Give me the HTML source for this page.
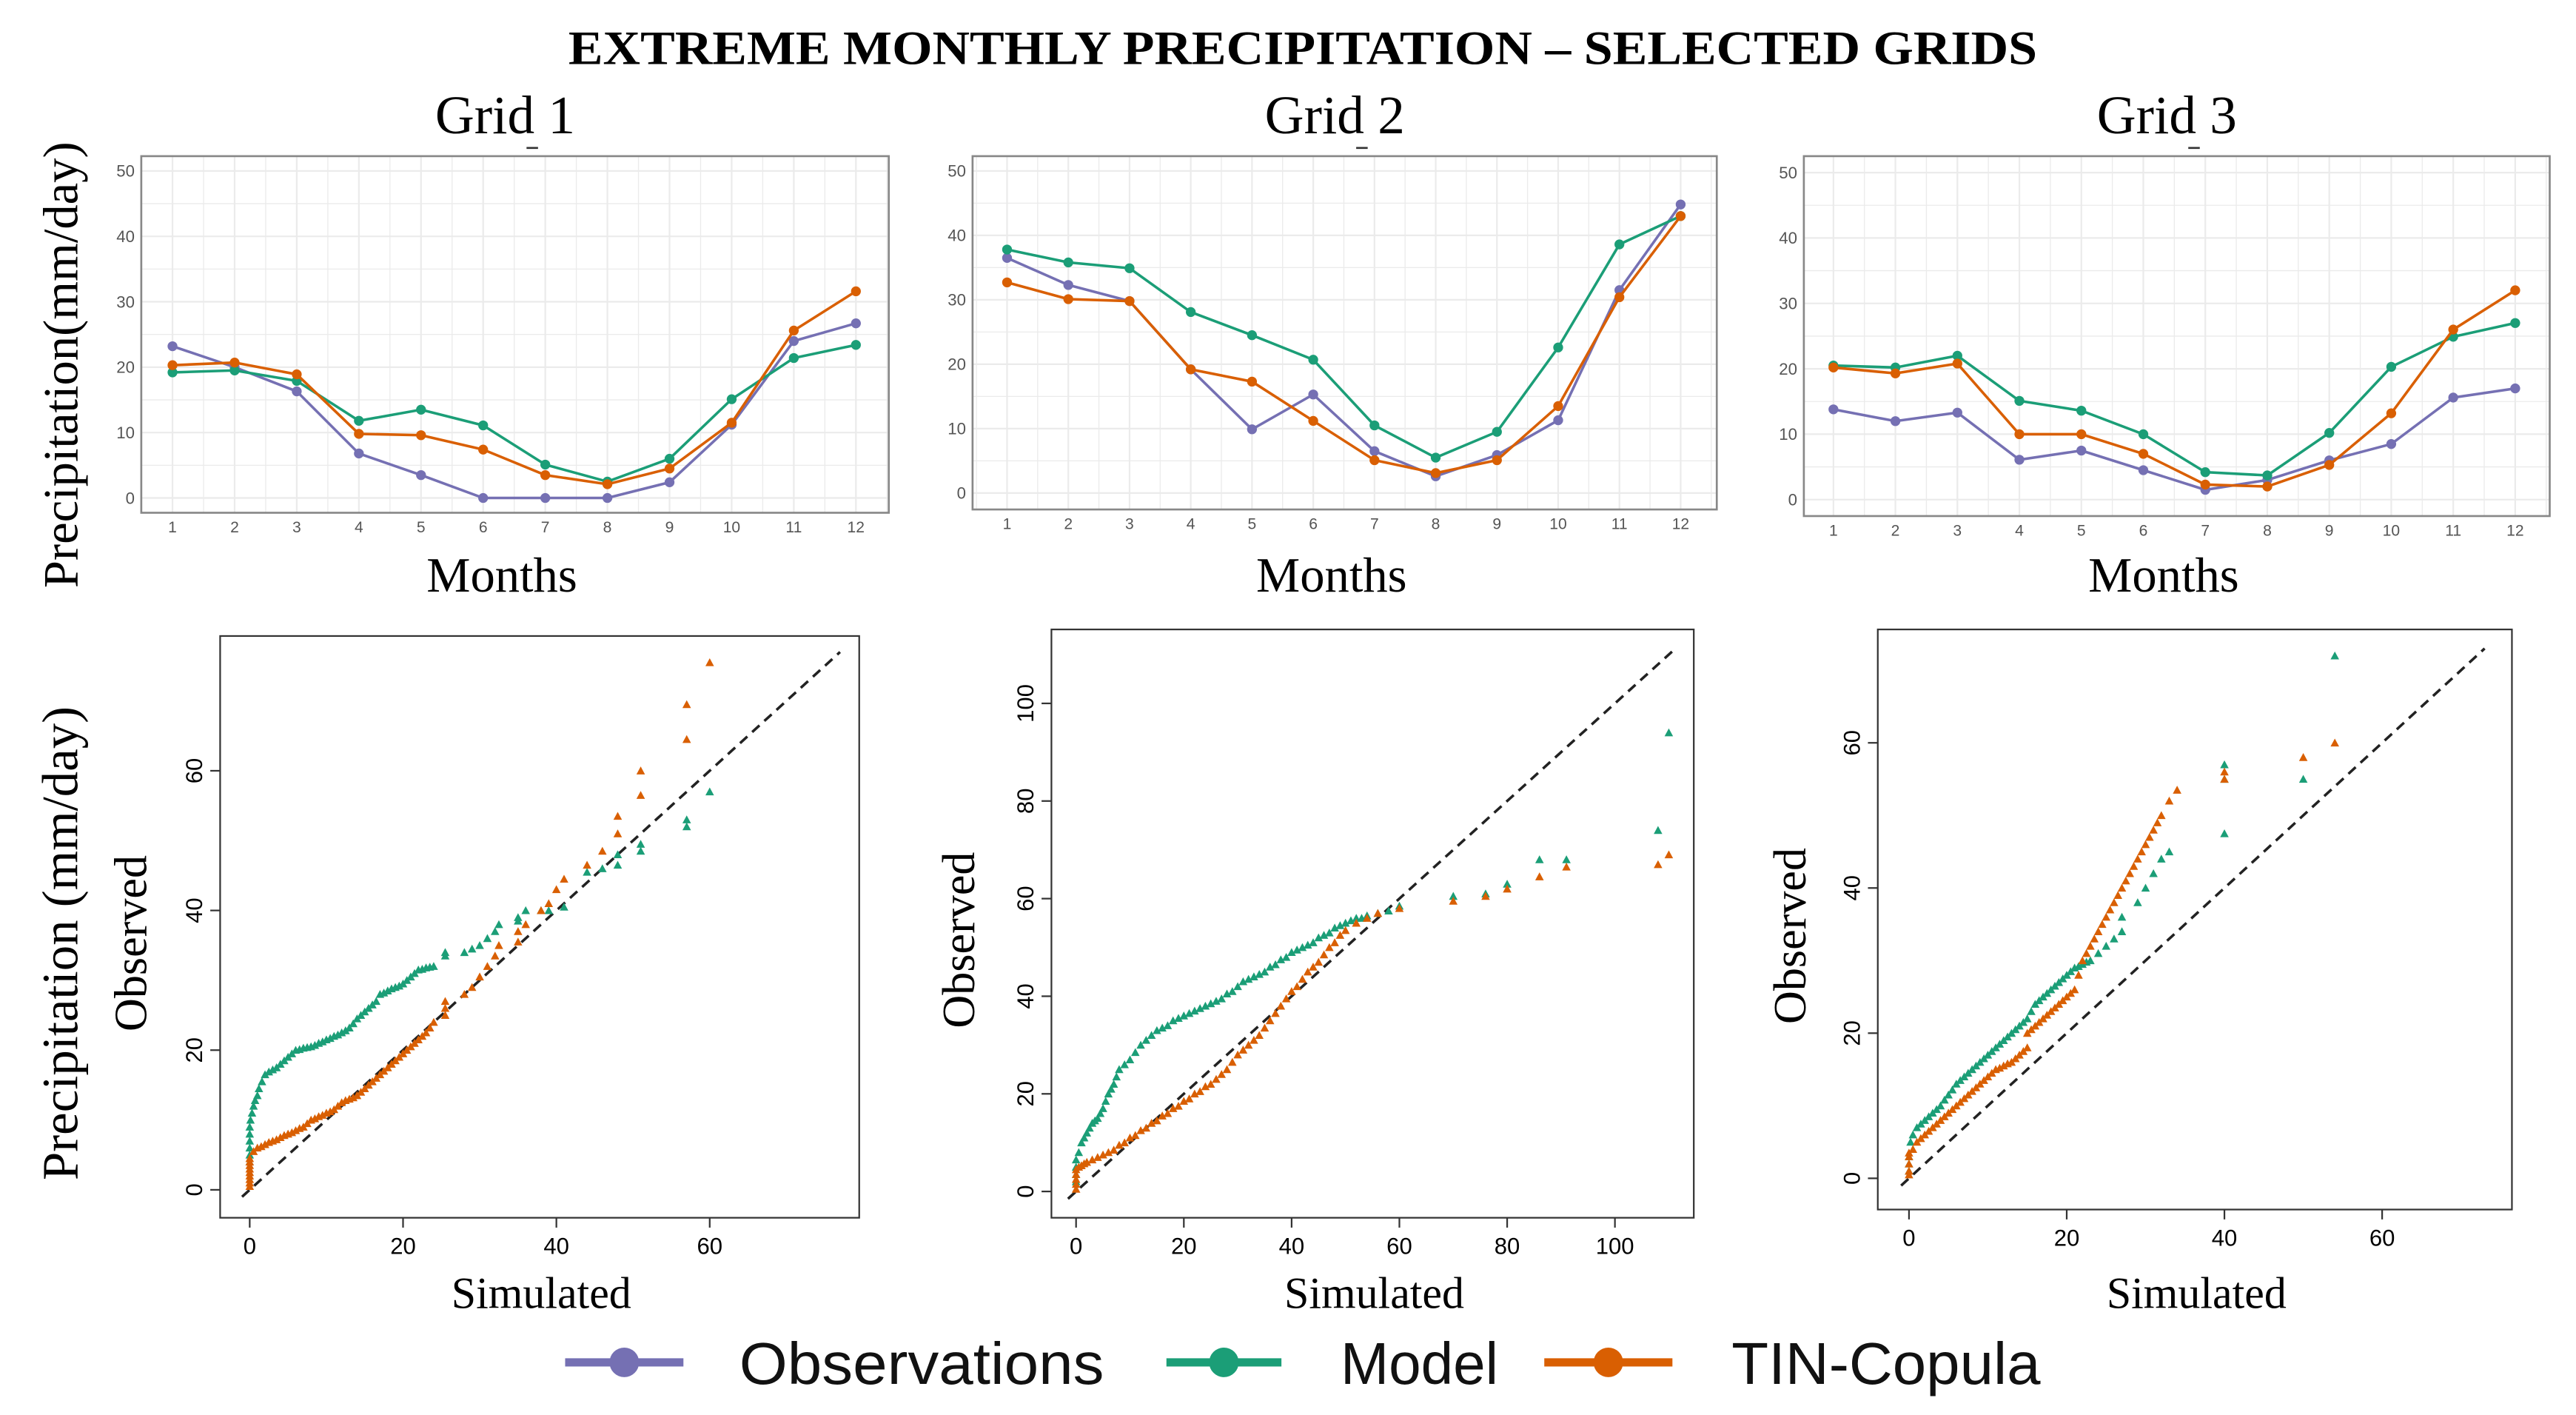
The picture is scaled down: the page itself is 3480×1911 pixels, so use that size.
<!DOCTYPE html>
<html><head><meta charset="utf-8">
<style>
html,body{margin:0;padding:0;background:#fff;}
svg{display:block;}
.serif{font-family:"Liberation Serif",serif;}
.sans{font-family:"Liberation Sans",sans-serif;}
</style></head>
<body>
<svg id="chart" width="3480" height="1911" viewBox="0 0 1568 861" xmlns="http://www.w3.org/2000/svg">
<rect x="0" y="0" width="1568" height="861" fill="#fff"/>
<text class="serif" x="793" y="39" text-anchor="middle" font-size="29" font-weight="bold" textLength="894" lengthAdjust="spacingAndGlyphs">EXTREME MONTHLY PRECIPITATION – SELECTED GRIDS</text>
<text class="serif" transform="translate(47,222) rotate(-90)" text-anchor="middle" font-size="30">Precipitation(mm/day)</text>
<text class="serif" transform="translate(47,574) rotate(-90)" text-anchor="middle" font-size="31">Precipitation (mm/day)</text>
<g id="legend"></g>
</svg>
<script>
const months = [1,2,3,4,5,6,7,8,9,10,11,12];
const yTicksTop = [0,10,20,30,40,50];
const grid1Obs   = [23.2,20.0,16.3,6.8,3.5,0,0,0,2.4,11.2,24.0,26.7];
const grid1Model = [19.2,19.5,17.9,11.8,13.5,11.1,5.1,2.5,6.0,15.1,21.4,23.4];
const grid1Tin   = [20.3,20.7,18.9,9.8,9.6,7.4,3.5,2.1,4.5,11.5,25.6,31.6];
const grid2Obs   = [36.5,32.3,29.8,19.2,9.9,15.3,6.5,2.6,5.9,11.3,31.5,44.8];
const grid2Model = [37.8,35.8,34.9,28.1,24.5,20.7,10.5,5.5,9.5,22.6,38.6,43.0];
const grid2Tin   = [32.7,30.1,29.8,19.2,17.3,11.2,5.1,3.1,5.1,13.5,30.4,43.0];
const grid3Obs   = [13.8,12.0,13.3,6.1,7.5,4.5,1.5,3.0,6.0,8.5,15.6,17.0];
const grid3Model = [20.5,20.2,22.0,15.1,13.6,10.0,4.2,3.7,10.2,20.3,24.9,27.0];
const grid3Tin   = [20.2,19.3,20.8,10.0,10.0,7.0,2.3,2.0,5.3,13.2,26.0,32.0];

const qq1Ticks = [0,20,40,60];
const qq2Ticks = [0,20,40,60,80,100];
const qq3Ticks = [0,20,40,60];
const qq1ModelSim = [0,0,0,0,0,0,0.1,0.3,0.5,0.7,1,1.2,1.6,2,2.5,3,3.5,4,4.5,5,5.5,6,6.5,7,7.5,8,8.5,9,9.5,10,10.5,11,11.5,12,12.5,13,13.5,14,14.5,15,15.5,16,16.5,17,17.5,18,18.5,19,19.5,20,20.5,21,21.5,22,22.5,23,23.5,24,25.5,25.5,28,29,30,31,32,32.5,35,35,36,38,39,41,44,46,48,48,51,51,57,57,60];
const qq1ModelObs = [4,5,6,7,8,9,10,11,12,12.8,13.5,14.5,15.5,16.5,16.9,17.2,17.5,18,18.5,19,19.5,20,20.1,20.3,20.4,20.5,20.7,21,21.2,21.5,21.7,22,22.2,22.5,22.8,23.2,23.8,24.5,25,25.5,26,26.5,27,28,28.2,28.5,28.8,29,29.2,29.5,30,30.5,31,31.5,31.6,31.8,31.9,32,33.5,34,34,34.5,35,36,37,38,38.5,39,40,40,40,40.5,45.5,46,46.5,48,48.5,49.5,52,53,57];
const qq1TinSim = [0,0,0,0,0,0,0,0,0,0.5,1,1.5,2,2.5,3,3.5,4,4.5,5,5.5,6,6.5,7,7.5,8,8.5,9,9.5,10,10.5,11,11.5,12,12.5,13,13.5,14,14.5,15,15.5,16,16.5,17,17.5,18,18.5,19,19.5,20,20.5,21,21.5,22,22.5,23,23.5,24,25.5,25.5,25.5,28,29,30,31,32,32.5,35,35,36,38,39,40,41,44,46,48,48,51,51,57,57,60];
const qq1TinObs = [0.5,1,1.5,2,2.5,3,3.5,4,4.5,5.5,6,6.2,6.5,6.8,7,7.2,7.5,7.8,8,8.2,8.5,8.8,9,9.5,10,10.2,10.5,10.7,11,11.2,11.5,12,12.5,12.8,13,13.2,13.5,14,14.5,15,15.5,16,16.5,17,17.5,18,18.5,19,19.5,20,20.5,21,21.5,22,22.5,23.2,24,25,26,27,28,29,30.5,32,33.5,35,35.5,37,38,40,41,43,44.5,46.5,48.5,51,53.5,56.5,60,64.5,69.5,75.5];
const qq2ModelSim = [0,0,0,0,0.5,1,1.5,2,2.5,3,3.5,4,4.5,5,5.5,6,6.5,7,7.5,8,9,10,11,12,13,14,15,16,17,18,19,20,21,22,23,24,25,26,27,28,29,30,31,32,33,34,35,36,37,38,39,40,41,42,43,44,45,46,47,48,49,50,51,52,53,54,56,58,60,70,76,80,86,91,108,110];
const qq2ModelObs = [2,3.5,5,6.5,8,10,11,12,13,14,14.5,15,16,17,18.5,20,21,22,23.5,25,26,27,28.5,30,31,32,33,33.5,34,35,35.5,36,36.5,37,37.5,38,38.5,39,39.5,40.5,41,42,43,43.5,44,44.5,45,46,46.5,47.5,48,49,49.5,50,50.5,51,52,52.5,53,54,54.5,55,55.5,56,56,56.5,57,57.5,58.5,60.5,61,63,68,68,74,94];
const qq2TinSim = [0,0,0,0,0,0.5,1,1.5,2,3,4,5,6,7,8,9,10,11,12,13,14,15,16,17,18,19,20,21,22,23,24,25,26,27,28,29,30,31,32,33,34,35,36,37,38,39,40,41,42,43,44,45,46,47,48,49,50,52,54,56,60,70,76,80,86,91,108,110];
const qq2TinObs = [0.5,1.5,2.5,3.5,4.5,5,5.3,5.7,6,6.5,7,7.5,8,8.5,9.5,10,11,11.5,12.5,13,14,14.5,15.5,16,17,17.5,18.5,19,20,20.5,21.5,22,23,24,25,26.5,28,29,30,31,32,33.5,35,36.5,38,39.5,41,42,43.5,45,46,47,48.5,50,51,52.5,53.5,55,56,57,58,59.5,60.5,62,64.5,66.5,67,69];
const qq3ModelSim = [0,0,0,0.2,0.5,1,1.5,2,2.5,3,3.5,4,4.5,5,5.5,6,6.5,7,7.5,8,8.5,9,9.5,10,10.5,11,11.5,12,12.5,13,13.5,14,14.5,15,15.5,16,16.5,17,17.5,18,18.5,19,19.5,20,20.5,21,21.5,22,22.5,23,24,25,26,27,27,29,30,31,32,33,40,40,40,50,54];
const qq3ModelObs = [1,2,3,5,6,7,7.5,8,8.5,9,9.5,10,10.8,11.5,12.2,13,13.5,14,14.5,15,15.5,16,16.5,17,17.5,18,18.5,19,19.5,20,20.5,21,21.5,22,23,24,24.5,25,25.5,26,26.5,27,27.5,28,28.5,29,29.2,29.5,29.8,30,31,32,33,34,36,38,40,42,44,45,47.5,55,57,55,72];
const qq3TinSim = [0,0,0,0,0,0.5,1,1.5,2,2.5,3,3.5,4,4.5,5,5.5,6,6.5,7,7.5,8,8.5,9,9.5,10,10.5,11,11.5,12,12.5,13,13.5,14,14.5,15,15,15.5,16,16.5,17,17.5,18,18.5,19,19.5,20,20.5,21,21.5,22,22.5,23,23.5,24,24.5,25,25.5,26,26.5,27,27.5,28,28.5,29,29.5,30,30.5,31,31.5,32,33,34,40,40,50,54];
const qq3TinObs = [0.5,1,2,3,3.5,4,5,5.5,6,6.5,7,7.5,8,8.5,9,9.5,10,10.5,11,11.5,12,12.5,13,13.5,14,14.5,15,15.2,15.5,15.8,16,16.5,17,17.5,18,20,20.5,21,21.5,22,22.5,23,23.5,24,24.5,25,25.5,26,28,30,31,32,33,34,35,36,37,38,39,40,41,42,43,44,45,46,47,48,49,50,52,53.5,55,56,58,60,62];

const NS = 'http://www.w3.org/2000/svg';
const svg = document.getElementById('chart');
const C = {obs:'#7570b3', model:'#1b9e77', tin:'#d95f02'};
function mk(tag, attrs, parent){
  const e = document.createElementNS(NS, tag);
  for (const k in attrs) e.setAttribute(k, attrs[k]);
  (parent||svg).appendChild(e); return e;
}
function lin(d0,d1,p0,p1){ return v => p0 + (v-d0)*(p1-p0)/(d1-d0); }

const topPanels = [
  {name:'grid-1', title:'Grid 1', box:[86,95,541,312], x:[105,521], y:[303,104], obs:grid1Obs, model:grid1Model, tin:grid1Tin},
  {name:'grid-2', title:'Grid 2', box:[592,95,1045,310], x:[613,1023], y:[300,104], obs:grid2Obs, model:grid2Model, tin:grid2Tin},
  {name:'grid-3', title:'Grid 3', box:[1098,95,1552,314], x:[1116,1531], y:[304,105], obs:grid3Obs, model:grid3Model, tin:grid3Tin}
];
topPanels.forEach(p => {
  const g = mk('g', {});
  
  
  const X = lin(1,12,p.x[0],p.x[1]);
  const Y = lin(0,50,p.y[0],p.y[1]);
  const [x0,y0,x1,y1] = p.box;
  const cx = (x0+x1)/2 - 6;
  const t = mk('text', {x:cx, y:81, 'text-anchor':'middle', 'font-size':33, class:'serif'}, g);
  t.textContent = p.title;
  
  
  mk('line', {x1:cx+13, x2:cx+20, y1:90, y2:90, stroke:'#333', 'stroke-width':1.2}, g);
  for (let v=5; v<=55; v+=5){
    const yy = Y(v); if (yy < y0) continue;
    mk('line', {x1:x0, x2:x1, y1:yy, y2:yy, stroke:'#ebebeb', 'stroke-width': v%10===0?1:0.6}, g);
  }
  mk('line', {x1:x0, x2:x1, y1:Y(0), y2:Y(0), stroke:'#ebebeb', 'stroke-width':1}, g);
  for (let m=0.5; m<=12.5; m+=0.5){
    const xx = X(m); if (xx<=x0||xx>=x1) continue;
    mk('line', {x1:xx, x2:xx, y1:y0, y2:y1, stroke:'#ebebeb', 'stroke-width': Number.isInteger(m)?1:0.6}, g);
  }
  mk('rect', {x:x0, y:y0, width:x1-x0, height:y1-y0, fill:'none', stroke:'#888', 'stroke-width':1.2}, g);
  yTicksTop.forEach(v => {
    const tt = mk('text', {x:x0-4, y:Y(v)+3.5, 'text-anchor':'end', 'font-size':10, fill:'#555', class:'sans'}, g);
    tt.textContent = v;
    
    
  });
  months.forEach(m => {
    const tt = mk('text', {x:X(m), y:y1+12, 'text-anchor':'middle', 'font-size':9.5, fill:'#555', class:'sans'}, g);
    tt.textContent = m;
    
    
  });
  const xl = mk('text', {x:(x0+x1)/2-8, y:360, 'text-anchor':'middle', 'font-size':30, class:'serif'}, g);
  xl.textContent = 'Months';
  
  
  [['obs',p.obs],['model',p.model],['tin',p.tin]].forEach(([k,arr]) => {
    const pts = arr.map((v,i)=>X(months[i])+','+Y(v)).join(' ');
    const pl = mk('polyline', {points:pts, fill:'none', stroke:C[k], 'stroke-width':1.6}, g);
    
    
    arr.forEach((v,i) => {
      const c = mk('circle', {cx:X(months[i]), cy:Y(v), r:3, fill:C[k]}, g);
      
      
    });
  });
});

const qqPanels = [
  {name:'qq-grid-1', box:[134,387,523,741], xt:qq1Ticks, xp:[152,432], yp:[724,469], xmax:60, diag:[-1,77], ms:qq1ModelSim, mo:qq1ModelObs, ts:qq1TinSim, to:qq1TinObs, obsX:80},
  {name:'qq-grid-2', box:[640,383,1031,741], xt:qq2Ticks, xp:[655,983], yp:[725,428], xmax:100, diag:[-1.5,111], ms:qq2ModelSim, mo:qq2ModelObs, ts:qq2TinSim, to:qq2TinObs, obsX:584},
  {name:'qq-grid-3', box:[1143,383,1529,736], xt:qq3Ticks, xp:[1162,1450], yp:[717,452], xmax:60, diag:[-1,73], ms:qq3ModelSim, mo:qq3ModelObs, ts:qq3TinSim, to:qq3TinObs, obsX:1090}
];
qqPanels.forEach(p => {
  const g = mk('g', {});
  
  
  const X = lin(0,p.xmax,p.xp[0],p.xp[1]);
  const yTicks = p.xt.filter(v => v <= p.xmax);
  const Y = lin(0,p.xmax,p.yp[0],p.yp[1]);
  const [x0,y0,x1,y1] = p.box;
  mk('rect', {x:x0, y:y0, width:x1-x0, height:y1-y0, fill:'none', stroke:'#333', 'stroke-width':1}, g);
  p.xt.forEach(v => {
    mk('line', {x1:X(v), x2:X(v), y1:y1, y2:y1+6, stroke:'#333', 'stroke-width':1}, g);
    const tt = mk('text', {x:X(v), y:y1+22, 'text-anchor':'middle', 'font-size':14, class:'sans'}, g);
    tt.textContent = v;
    
    
  });
  yTicks.forEach(v => {
    mk('line', {x1:x0-6, x2:x0, y1:Y(v), y2:Y(v), stroke:'#333', 'stroke-width':1}, g);
    const tt = mk('text', {transform:'translate('+(x0-11)+','+Y(v)+') rotate(-90)', 'text-anchor':'middle', 'font-size':14, class:'sans'}, g);
    tt.textContent = v;
    
    
  });
  const d = mk('line', {x1:X(p.diag[0]), y1:Y(p.diag[0]), x2:X(p.diag[1]), y2:Y(p.diag[1]), stroke:'#222', 'stroke-width':1.6, 'stroke-dasharray':'6,4'}, g);
  
  
  const tri = (sx, sy, col, nm) => {
    const x = X(sx), y = Y(sy);
    const t = mk('polygon', {points:(x-2.6)+','+(y+2.2)+' '+(x+2.6)+','+(y+2.2)+' '+x+','+(y-2.6), fill:col}, g);
    
    
  };
  p.ms.forEach((s,i) => tri(s, p.mo[i], C.model, p.name + '-model-point'));
  p.ts.forEach((s,i) => tri(s, p.to[i], C.tin, p.name + '-tin-copula-point'));
  const xl = mk('text', {x:(x0+x1)/2 + 1, y:796, 'text-anchor':'middle', 'font-size':27, class:'serif'}, g);
  xl.textContent = 'Simulated';
  
  
  const yl = mk('text', {transform:'translate('+(p.obsX+9)+','+((y0+y1)/2+10)+') rotate(-90)', 'text-anchor':'middle', 'font-size':28, class:'serif'}, g);
  yl.textContent = 'Observed';
  
  
});

const legendLabels = ['Observations','Model','TIN-Copula'];
const legendKeys = ['obs','model','tin'];
const lg = document.getElementById('legend');
const legPos = [[344,416,450,222],[710,780,816,96],[940,1018,1054,188]];
legendLabels.forEach((lab,i) => {
  const [lx0,lx1,tx,tw] = legPos[i];
  const e = mk('g', {}, lg);
  
  
  mk('line', {x1:lx0, x2:lx1, y1:829, y2:829, stroke:C[legendKeys[i]], 'stroke-width':5}, e);
  mk('circle', {cx:(lx0+lx1)/2, cy:829, r:9, fill:C[legendKeys[i]]}, e);
  const t = mk('text', {x:tx, y:842, 'font-size':36, textLength:tw, lengthAdjust:'spacingAndGlyphs', class:'sans', fill:'#111'}, e);
  t.textContent = lab;
});
</script>
</body></html>
